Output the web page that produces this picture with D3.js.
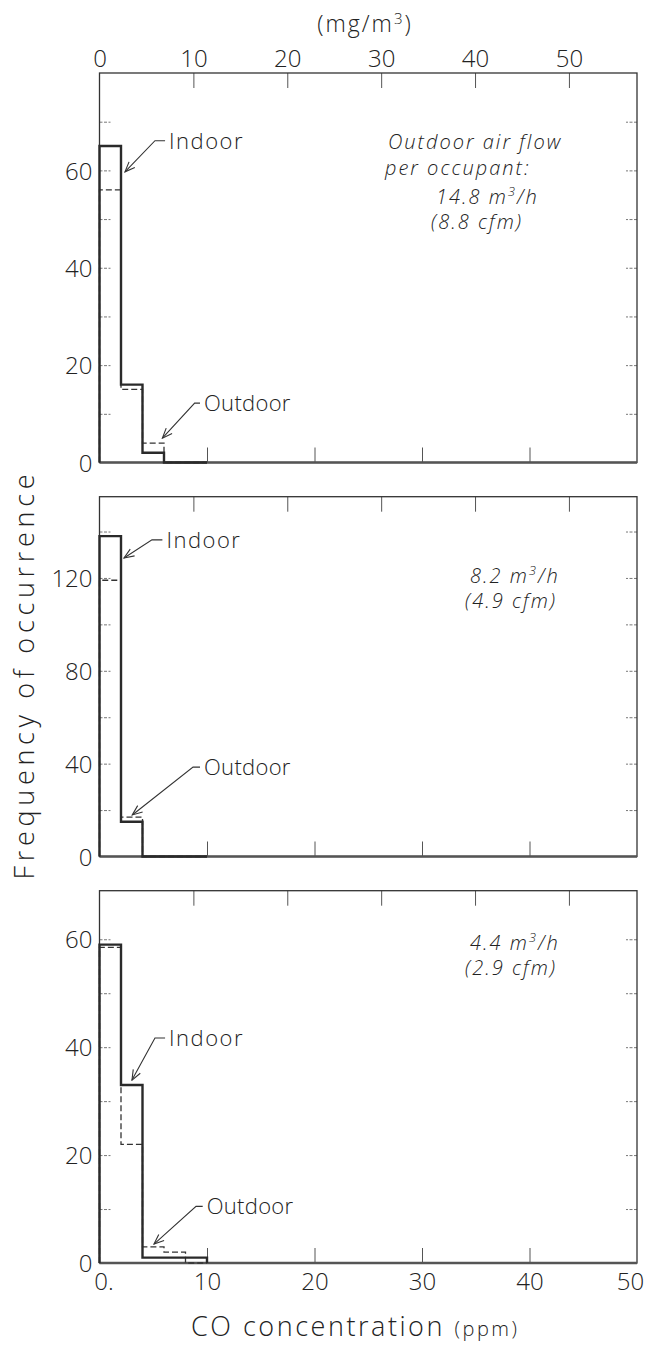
<!DOCTYPE html>
<html><head><meta charset="utf-8">
<script src="https://cdn.jsdelivr.net/npm/d3@7"></script>
<style>
body{margin:0;background:#fff;}
svg text{font-family:"Open Sans","DejaVu Sans",sans-serif;font-weight:300;fill:#222;}
</style></head>
<body>
<svg id="c" width="646" height="1354"></svg>
<script>
// ---- data ----
const binEdges = [0, 2, 4, 6, 8, 10];            // ppm
const indoor1  = [65, 16, 2, 0, 0];
const outdoor1 = [56, 15, 4, 0, 0];
const indoor2  = [138, 15, 0, 0, 0];
const outdoor2 = [119, 17, 0, 0, 0];
const indoor3  = [59, 33, 1, 1, 1];
const outdoor3 = [58.5, 22, 3, 2, 0];
const yMax = [80, 155, 69];
const yLabels1 = [0, 20, 40, 60],  yMinor1 = [10, 30, 50, 70];
const yLabels2 = [0, 40, 80, 120], yMinor2 = [20, 60, 100, 140];
const yLabels3 = [0, 20, 40, 60],  yMinor3 = [10, 30, 50];
const ppmTicks = [0, 10, 20, 30, 40, 50];
const mgTicks  = [0, 10, 20, 30, 40, 50];
const mgPerPpm = 1.145;
const flowLines1 = ["Outdoor air flow", "per occupant:"];
const flowRates = ["14.8", "8.2", "4.4"];
const flowCfm = ["(8.8 cfm)", "(4.9 cfm)", "(2.9 cfm)"];

// ---- layout ----
const svg = d3.select("#c");
const L = 99.5, R = 637;
const panels = [
  {top: 73, bot: 462.5, ind: indoor1, out: outdoor1, lab: yLabels1, min: yMinor1, max: yMax[0],
   flowX: 436, flowY: 204,
   annI: {tip:[2.37,59.7], knee:[5.16,66.1], end:[6.1,66.1]},
   annO: {tip:[5.85,5.0], knee:[8.85,12.2], end:[9.35,12.2]}},
  {top: 496.7, bot: 856.5, ind: indoor2, out: outdoor2, lab: yLabels2, min: yMinor2, max: yMax[1],
   flowX: 470, flowY: 583,
   annI: {tip:[2.28,128.6], knee:[4.88,136.4], end:[5.85,136.4]},
   annO: {tip:[3.05,17.9], knee:[8.7,38.5], end:[9.35,38.5]}},
  {top: 890.7, bot: 1263, ind: indoor3, out: outdoor3, lab: yLabels3, min: yMinor3, max: yMax[2],
   flowX: 470, flowY: 950,
   annI: {tip:[3.02,33.9], knee:[5.16,41.7], end:[6.1,41.7]},
   annO: {tip:[5.07,3.5], knee:[8.98,10.5], end:[9.6,10.5]}}
];
const x = d3.scaleLinear().domain([0, 50]).range([L, R]);
const xmg = d3.scaleLinear().domain([0, 50 * mgPerPpm]).range([L, R]);

const defs = svg.append("defs");
defs.append("marker").attr("id","arr").attr("viewBox","0 0 12 10").attr("refX",11).attr("refY",5)
  .attr("markerWidth",12).attr("markerHeight",10).attr("markerUnits","userSpaceOnUse").attr("orient","auto")
  .append("path").attr("d","M1,1 L11,5 L1,9").attr("fill","none").attr("stroke","#333").attr("stroke-width",1.1);

function stepPoints(vals) {
  const pts = [[binEdges[0], 0]];
  vals.forEach((v, i) => { pts.push([binEdges[i], v]); pts.push([binEdges[i + 1], v]); });
  pts.push([binEdges[binEdges.length - 1], 0]);
  return pts;
}

function sup(textSel, before, after, small) {
  textSel.append("tspan").text(before);
  textSel.append("tspan").attr("font-size", small).attr("dy", -8).text("3");
  textSel.append("tspan").attr("dy", 8).text(after);
}

panels.forEach((p, pi) => {
  const y = d3.scaleLinear().domain([0, p.max]).range([p.bot, p.top]);
  const g = svg.append("g");
  const line = d3.line().x(d => x(d[0])).y(d => y(d[1]));

  // inner y ticks left & right
  const allY = p.lab.concat(p.min).filter(v => v > 0);
  g.append("g").attr("transform", `translate(${L},0)`)
    .call(d3.axisRight(y).tickValues(allY).tickSize(11).tickFormat(""))
    .call(a => { a.select(".domain").remove(); a.selectAll("line").attr("stroke","#777").attr("stroke-dasharray","3,1.5"); });
  g.append("g").attr("transform", `translate(${R},0)`)
    .call(d3.axisLeft(y).tickValues(allY).tickSize(11).tickFormat(""))
    .call(a => { a.select(".domain").remove(); a.selectAll("line").attr("stroke","#777").attr("stroke-dasharray","3,1.5"); });
  // y labels
  g.append("g").attr("transform", `translate(${L},0)`)
    .call(d3.axisLeft(y).tickValues(p.lab).tickSize(0).tickPadding(7))
    .call(a => { a.select(".domain").remove(); a.selectAll("text").attr("font-size", 24).attr("fill","#222").attr("dy","0.36em"); });
  // top mg ticks
  g.append("g").attr("transform", `translate(0,${p.top})`)
    .call(d3.axisBottom(xmg).tickValues(mgTicks.filter(v => v > 0)).tickSize(15).tickFormat(""))
    .call(a => { a.select(".domain").remove(); a.selectAll("line").attr("stroke","#555"); });
  // bottom ppm ticks
  g.append("g").attr("transform", `translate(0,${p.bot})`)
    .call(d3.axisTop(x).tickValues(ppmTicks.filter(v => v > 0 && v < 50)).tickSize(15).tickFormat(""))
    .call(a => { a.select(".domain").remove(); a.selectAll("line").attr("stroke","#555"); });

  // frame
  g.append("rect").attr("x", L).attr("y", p.top).attr("width", R - L).attr("height", p.bot - p.top)
    .attr("fill","none").attr("stroke","#333").attr("stroke-width",1.3);
  g.append("line").attr("x1", L).attr("x2", R).attr("y1", p.bot).attr("y2", p.bot)
    .attr("stroke","#555").attr("stroke-width",2.6);

  // outdoor dashed
  g.append("path").attr("d", line(stepPoints(p.out))).attr("fill","none")
    .attr("stroke","#333").attr("stroke-width",1.3).attr("stroke-dasharray","6,3");
  // indoor solid
  g.append("path").attr("d", line(stepPoints(p.ind))).attr("fill","none")
    .attr("stroke","#2a2a2a").attr("stroke-width",2.4).attr("stroke-linejoin","miter");

  // annotations
  [[p.annI, "Indoor", 1.5], [p.annO, "Outdoor", 0.3]].forEach(([a, label, ls]) => {
    g.append("path")
      .attr("d", d3.line()([[x(a.end[0]), y(a.end[1])], [x(a.knee[0]), y(a.knee[1])], [x(a.tip[0]), y(a.tip[1])]]))
      .attr("fill","none").attr("stroke","#333").attr("stroke-width",1.1).attr("marker-end","url(#arr)");
    g.append("text").attr("x", x(a.end[0]) + 4).attr("y", y(a.end[1]) + 8)
      .attr("font-size", 22).attr("letter-spacing", ls).text(label);
  });

  // flow text
  const ft = g.append("g");
  if (pi === 0) {
    ft.append("text").attr("x", 388).attr("y", 149).attr("font-size", 20).attr("letter-spacing", 2)
      .attr("font-style","italic").text(flowLines1[0]);
    ft.append("text").attr("x", 385).attr("y", 175).attr("font-size", 20).attr("letter-spacing", 2)
      .attr("font-style","italic").text(flowLines1[1]);
  }
  const t1 = ft.append("text").attr("x", p.flowX).attr("y", p.flowY).attr("font-size", 20)
    .attr("letter-spacing", 2).attr("font-style","italic");
  sup(t1, flowRates[pi] + " m", "/h", 13);
  ft.append("text").attr("x", p.flowX - 5).attr("y", p.flowY + 25).attr("font-size", 20)
    .attr("letter-spacing", 2).attr("font-style","italic").text(flowCfm[pi]);
});

// top mg axis labels
svg.append("g").attr("transform", `translate(0,${panels[0].top - 6})`)
  .call(d3.axisTop(xmg).tickValues(mgTicks).tickSize(0).tickPadding(0))
  .call(a => { a.select(".domain").remove(); a.selectAll("text").attr("font-size", 24).attr("fill","#222"); });
const mgT = svg.append("text").attr("x", 365).attr("y", 32).attr("text-anchor","middle")
  .attr("font-size", 23).attr("letter-spacing", 2);
sup(mgT, "(mg/m", ")", 15);

// bottom ppm labels
svg.append("g").attr("transform", `translate(0,${panels[2].bot + 8})`)
  .call(d3.axisBottom(x).tickValues(ppmTicks).tickSize(0).tickPadding(0)
    .tickFormat(d => d === 0 ? "0." : d))
  .call(a => { a.select(".domain").remove(); a.selectAll("text").attr("font-size", 24).attr("fill","#222")
    .attr("dy","0.78em").attr("dx", d => d === 0 ? 4 : (d === 50 ? -7 : 0)); });

// axis titles
svg.append("text").attr("transform","translate(34,677) rotate(-90)").attr("text-anchor","middle")
  .attr("font-size", 27).attr("textLength", 405).attr("lengthAdjust","spacing").text("Frequency of occurrence");
const xt = svg.append("text").attr("x", 354).attr("y", 1336).attr("text-anchor","middle")
  .attr("font-size", 27).attr("textLength", 326).attr("lengthAdjust","spacing");
xt.append("tspan").text("CO concentration ");
xt.append("tspan").attr("font-size", 20).text("(ppm)");
</script>
</body></html>
